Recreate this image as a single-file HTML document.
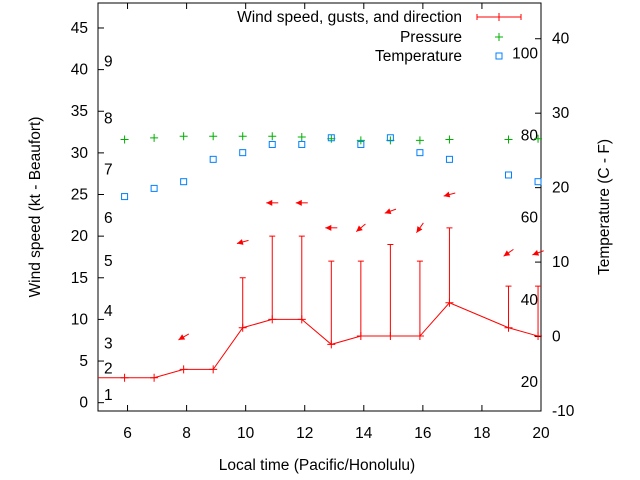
<!DOCTYPE html>
<html><head><meta charset="utf-8"><style>body{margin:0;background:#fff}svg{display:block;font-family:"Liberation Sans",sans-serif}</style></head>
<body>
<svg id="c" width="640" height="480"></svg>
<script>
const times=[4.9,5.9,6.9,7.9,8.9,9.9,10.9,11.9,12.9,13.9,14.9,15.9,16.9,18.9,19.9];
const wind=[3,3,3,4,4,9,10,10,7,8,8,8,12,9,8];
const gusts=[null,null,null,null,null,15,20,20,17,17,19,17,21,14,14];
const arrowTimes=[7.9,9.9,10.9,11.9,12.9,13.9,14.9,15.9,16.9,18.9,19.9];
const arrowY=[7.9,19.3,24,24,21,21,23,21,25,18,18];
const arrowDir=[150,165,180,180,180,140,160,125,165,145,160];
const pTimes=[5.9,6.9,7.9,8.9,9.9,10.9,11.9,12.9,13.9,14.9,15.9,16.9,18.9,19.9];
const pressure=[31.6,31.8,32,32,32,32,31.9,31.7,31.5,31.5,31.5,31.6,31.6,31.7];
const temp=[18.8,19.9,20.8,23.8,24.7,25.8,25.8,26.7,25.8,26.7,24.7,23.8,21.7,20.8];
const xTicks=[6,8,10,12,14,16,18,20];
const yTicks=[0,5,10,15,20,25,30,35,40,45];
const y2Ticks=[-10,0,10,20,30,40];
const bft=[[1,0.9],[2,4.1],[3,7.1],[4,11],[5,17],[6,22.2],[7,28],[8,34.1],[9,41]];
const fahr=[[20,-6.1],[40,4.9],[60,16],[80,27],[100,38]];
const L=98,R=541,T=3,B=411;
const FS=15.5;
const X=t=>L+(t-5)/15*(R-L);
const Y=v=>B-(v+1)/49*(B-T);
const Y2=v=>B-(v+10)/54.8*(B-T);
const svg=document.getElementById('c');const NS='http://www.w3.org/2000/svg';
function el(tag,at,name,txt){const e=document.createElementNS(NS,tag);for(const k in at)e.setAttribute(k,at[k]);


if(txt!=null)e.textContent=txt;svg.appendChild(e);return e;}
el('rect',{x:L,y:T,width:R-L,height:B-T,fill:'none',stroke:'#000','stroke-width':1},'plot-frame');
xTicks.forEach(t=>{const x=X(t);el('line',{x1:x,y1:B,x2:x,y2:B-6,stroke:'#000'},'x-tick');el('line',{x1:x,y1:T,x2:x,y2:T+6,stroke:'#000'},'x-tick-top');
el('text',{x:x,y:B+27,'text-anchor':'middle','font-size':FS},'x-tick-label',t);});
yTicks.forEach(v=>{const y=Y(v);el('line',{x1:L,y1:y,x2:L+6,y2:y,stroke:'#000'},'y-tick');
el('text',{x:L-10,y:y+5,'text-anchor':'end','font-size':FS},'y-tick-label',v);});
y2Ticks.forEach(v=>{const y=Y2(v);el('line',{x1:R,y1:y,x2:R-6,y2:y,stroke:'#000'},'y2-tick');
el('text',{x:R+11,y:y+5,'text-anchor':'start','font-size':FS},'y2-tick-label',v);});
bft.forEach(([n,v])=>el('text',{x:104,y:Y(v)+5,'font-size':FS},'beaufort-label',n));
fahr.forEach(([n,v])=>el('text',{x:538,y:Y2(v)+5,'text-anchor':'end','font-size':FS},'fahrenheit-label',n));
el('text',{x:317,y:470,'text-anchor':'middle','font-size':FS},'x-axis-title','Local time (Pacific/Honolulu)');
el('text',{x:0,y:0,'text-anchor':'middle','font-size':FS,transform:'translate(40,207) rotate(-90)'},'y-axis-title','Wind speed (kt - Beaufort)');
el('text',{x:0,y:0,'text-anchor':'middle','font-size':FS,transform:'translate(609,207) rotate(-90)'},'y2-axis-title','Temperature (C - F)');
const cp=el('clipPath',{id:'clp'},'clip');const cr=document.createElementNS(NS,'rect');
cr.setAttribute('x',L);cr.setAttribute('y',T);cr.setAttribute('width',R-L);cr.setAttribute('height',B-T);cp.appendChild(cr);
el('polyline',{points:times.map((t,i)=>X(t)+','+Y(wind[i])).join(' '),fill:'none',stroke:'#f00','stroke-width':1},'wind-line').setAttribute('clip-path','url(#clp)');
times.forEach((t,i)=>{const x=X(t),y=Y(wind[i]);if(x<L)return;
el('path',{d:`M${x-4},${y}H${x+4}M${x},${y-4}V${y+4}`,stroke:'#f00'},'wind-point');
if(gusts[i]!=null){const yg=Y(gusts[i]);el('path',{d:`M${x},${y}V${yg}M${x-3},${yg}H${x+3}`,stroke:'#f00'},'gust-bar');}});
arrowTimes.forEach((t,i)=>{const a=arrowDir[i]*Math.PI/180,cx=X(t),cy=Y(arrowY[i]);const dx=Math.cos(a)*6,dy=Math.sin(a)*6;
const hx=cx+dx,hy=cy+dy,tx=cx-dx,ty=cy-dy;
el('line',{x1:tx,y1:ty,x2:hx,y2:hy,stroke:'#f00'},'wind-direction-arrow');
const ux=Math.cos(a),uy=Math.sin(a),px=-uy,py=ux;
el('polygon',{points:`${hx},${hy} ${hx-ux*6+px*3},${hy-uy*6+py*3} ${hx-ux*6-px*3},${hy-uy*6-py*3}`,fill:'#f00'},'arrow-head');});
pTimes.forEach((t,i)=>{const x=X(t),y=Y(pressure[i]);el('path',{d:`M${x-4},${y}H${x+4}M${x},${y-4}V${y+4}`,stroke:'#00b000'},'pressure-point');});
pTimes.forEach((t,i)=>{const x=X(t),y=Y2(temp[i]);el('rect',{x:x-3,y:y-3,width:6,height:6,fill:'none',stroke:'#0080ff'},'temperature-point');});
el('text',{x:462,y:22,'text-anchor':'end','font-size':FS},'legend-wind-label','Wind speed, gusts, and direction');
el('path',{d:'M477,17H521M477,14V20M521,14V20M499,13V21',stroke:'#f00'},'legend-wind-sample');
el('text',{x:462,y:42,'text-anchor':'end','font-size':FS},'legend-pressure-label','Pressure');
el('path',{d:'M495,37H503M499,33V41',stroke:'#00b000'},'legend-pressure-sample');
el('text',{x:462,y:61,'text-anchor':'end','font-size':FS},'legend-temperature-label','Temperature');
el('rect',{x:496,y:53,width:6,height:6,fill:'none',stroke:'#0080ff'},'legend-temperature-sample');
</script>
</body></html>
